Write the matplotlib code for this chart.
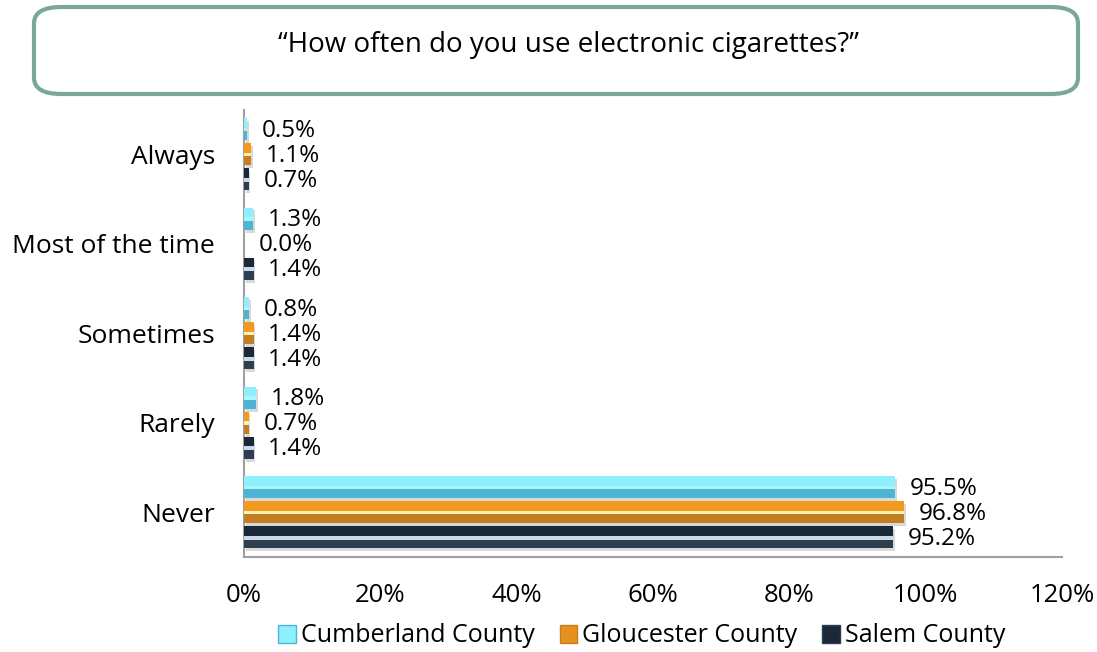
import matplotlib
matplotlib.use("Agg")
import matplotlib.pyplot as plt
from matplotlib.patches import FancyBboxPatch, Patch
import numpy as np

plt.rcParams['font.family'] = ['Open Sans', 'DejaVu Sans']

categories = ["Always", "Most of the time", "Sometimes", "Rarely", "Never"]
series_names = ["Cumberland County", "Gloucester County", "Salem County"]
cumberland = [0.5, 1.3, 0.8, 1.8, 95.5]
gloucester = [1.1, 0.0, 1.4, 0.7, 96.8]
salem = [0.7, 1.4, 1.4, 1.4, 95.2]
xticks = [0, 20, 40, 60, 80, 100, 120]
title = "\u201cHow often do you use electronic cigarettes?\u201d"

series = [cumberland, gloucester, salem]
# (top band, middle highlight, bottom band)
top_colors = ["#8ef0fc", "#f39a1e", "#1b2838"]
mid_colors = ["#a8f6ff", "#fff0b4", "#c9dbe8"]
bot_colors = ["#4fb4d4", "#c47e22", "#2c3e50"]

fig = plt.figure(figsize=(10.97, 6.52), dpi=100)
ax = fig.add_axes([244/1097, 1-557/652, (1062-244)/1097, 447.5/652])

n = len(categories)
ypos = np.arange(n)[::-1]  # Always at top
step = 0.28
h = 0.25
offsets = [-step, 0, step]  # Cumberland on top
for s, vals in enumerate(series):
    yc = ypos - offsets[s]
    # shadow
    ax.barh(yc - h*0.12, vals, height=h, left=0.25, color="#d8d8d8", edgecolor="none", zorder=2)
    ax.barh(yc - h*0.25, vals, height=h*0.5, color=bot_colors[s], edgecolor="none", zorder=3)
    ax.barh(yc + h*0.25, vals, height=h*0.5, color=top_colors[s], edgecolor="none", zorder=3)
    ax.barh(yc - h*0.02, vals, height=h*0.16, color=mid_colors[s], edgecolor="none", zorder=3.2)
    for y, v in zip(yc, vals):
        ax.annotate(f"{v:.1f}%", xy=(v, y), xytext=(10.5, -1), textcoords="offset points",
                    va="center", ha="left", fontsize=17.5, color="black", zorder=4)

ax.set_xlim(0, 120)
ax.set_ylim(-0.5, n - 0.5)
ax.set_xticks(xticks)
ax.set_xticklabels([f"{t}%" for t in xticks], fontsize=18.5)
ax.set_yticks(ypos)
ax.set_yticklabels(categories, fontsize=19)
ax.tick_params(axis='y', length=0, pad=21)
ax.tick_params(axis='x', length=0, pad=19)
for sp in ["top", "right"]:
    ax.spines[sp].set_visible(False)
for sp in ["left", "bottom"]:
    ax.spines[sp].set_color("#a0a0a0")
    ax.spines[sp].set_linewidth(1.5)

# legend
handles = [Patch(facecolor=top_colors[i] if i != 1 else "#e8901e", edgecolor=bot_colors[i]) for i in range(3)]
fig.legend(handles, series_names, loc="center", bbox_to_anchor=(0.585, 1-636/652), ncol=3,
           frameon=False, fontsize=18, handlelength=0.7, handleheight=0.7,
           handletextpad=0.2, columnspacing=1.0)

# title box
box = FancyBboxPatch((34/1097, 1-94/652), (1078-34)/1097, (94-7)/652,
                     boxstyle="round,pad=0,rounding_size=0.025", transform=fig.transFigure,
                     facecolor="white", edgecolor="#79a89a", linewidth=3)
fig.patches.append(box)
fig.text(568/1097, 1-45/652, title, ha="center", va="center", fontsize=20)

fig.savefig("out.png", dpi=100)
